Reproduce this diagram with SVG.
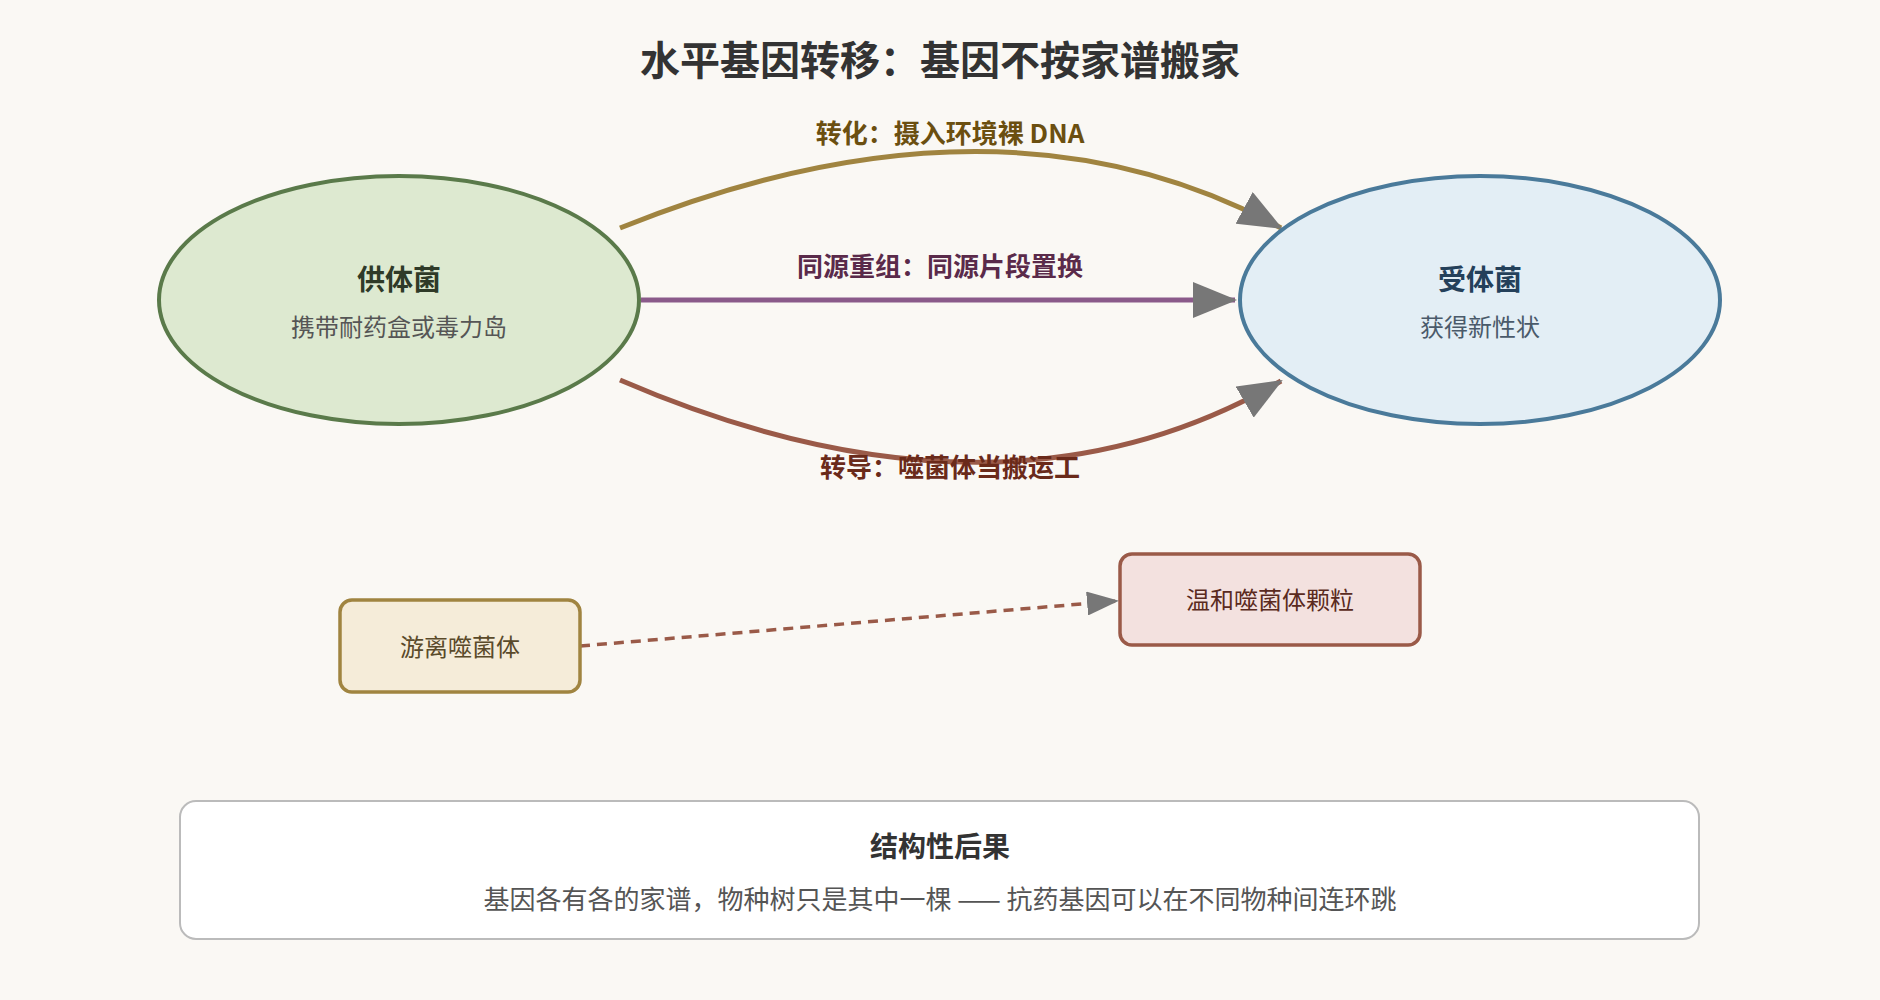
<svg xmlns="http://www.w3.org/2000/svg" width="1880" height="1000" viewBox="0 0 1880 1000">
<style>
text{font-family:"Noto Sans CJK SC","Liberation Sans",sans-serif;text-anchor:middle}
.t{font-size:28px;font-weight:bold}
.s{font-size:24px}
.lbl{font-size:26px;font-weight:bold}
.e{stroke-width:4}
.c{fill:none;stroke-width:5}
</style>
<defs>
<marker id="ah" markerUnits="userSpaceOnUse" markerWidth="44" markerHeight="36" refX="42" refY="18" orient="auto">
<path d="M0,0 L44,18 L0,36 Z" fill="#777"/>
</marker>
<marker id="ah2" markerUnits="userSpaceOnUse" markerWidth="32" markerHeight="24" refX="30" refY="12" orient="auto">
<path d="M0,0 L32,12 L0,24 Z" fill="#777"/>
</marker>
</defs>
<rect width="1880" height="1000" fill="#faf8f4"/>
<text x="940" y="75" style="font-size:40px;font-weight:bold" fill="#333">水平基因转移：基因不按家谱搬家</text>
<g id="connectors">
<path class="c" d="M620,228 Q1000,75 1281,228" stroke="#a08440" marker-end="url(#ah)"/>
<path class="c" d="M641,300 L1235,300" stroke="#8a5a8a" marker-end="url(#ah)"/>
<path class="c" d="M620,380 Q1000,544 1281,381" stroke="#9a5a48" marker-end="url(#ah)"/>
<path d="M580,646 L1117,601" fill="none" stroke="#9a5a48" stroke-width="3.5" stroke-dasharray="10,7" marker-end="url(#ah2)"/>
<text class="lbl" x="950" y="143" fill="#6b4f10">转化：摄入环境裸 DNA</text>
<text class="lbl" x="940" y="276" fill="#5a2a4a">同源重组：同源片段置换</text>
<text class="lbl" x="950" y="477" fill="#6a2a1a">转导：噬菌体当搬运工</text>
</g>
<g id="donor">
<ellipse cx="399" cy="300" rx="240" ry="124" fill="#dde9d0" stroke="#5a7a4a" class="e"/>
<text class="t" x="399" y="290" fill="#2f3a28">供体菌</text>
<text class="s" x="399" y="336" fill="#555">携带耐药盒或毒力岛</text>
</g>
<g id="recipient">
<ellipse cx="1480" cy="300" rx="240" ry="124" fill="#e3eef5" stroke="#4a7a9a" class="e"/>
<text class="t" x="1480" y="290" fill="#24405a">受体菌</text>
<text class="s" x="1480" y="336" fill="#4a5a6a">获得新性状</text>
</g>
<g id="free-phage">
<rect x="340" y="600" width="240" height="92" rx="12" fill="#f5ecd9" stroke="#a08440" stroke-width="3.5"/>
<text class="s" x="460" y="656" fill="#5a4a2a">游离噬菌体</text>
</g>
<g id="temperate-phage">
<rect x="1120" y="554" width="300" height="91" rx="12" fill="#f3e1df" stroke="#9a5a48" stroke-width="3.5"/>
<text class="s" x="1270" y="609" fill="#5a2a20">温和噬菌体颗粒</text>
</g>
<g id="consequence">
<rect x="180" y="801" width="1519" height="138" rx="16" fill="#fff" stroke="#bbb" stroke-width="2"/>
<text x="940" y="857" style="font-size:28px;font-weight:bold" fill="#333">结构性后果</text>
<text x="940" y="909" style="font-size:26px" fill="#555">基因各有各的家谱，物种树只是其中一棵 —— 抗药基因可以在不同物种间连环跳</text>
</g>
</svg>
